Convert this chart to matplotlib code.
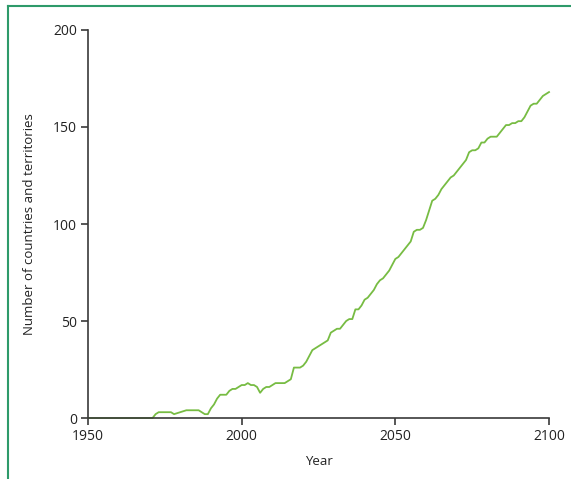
import matplotlib.pyplot as plt
from matplotlib.lines import Line2D

# numero de paises e territorios por ano
anos = list(range(1950, 2101))
valores = [0] * 22 + [
    2, 3, 3, 3, 3, 3, 2, 2.5, 3, 3.5,            # 1972-1981
    4, 4, 4, 4, 4, 3, 2, 2, 5, 7,                # 1982-1991
    10, 12, 12, 12, 14, 15, 15, 16, 17, 17,      # 1992-2001
    18, 17, 17, 16, 13, 15, 16, 16, 17, 18,      # 2002-2011
    18, 18, 18, 19, 20, 26, 26, 26, 27, 29,      # 2012-2021
    32, 35, 36, 37, 38, 39, 40, 44, 45, 46,      # 2022-2031
    46, 48, 50, 51, 51, 56, 56, 58, 61, 62,      # 2032-2041
    64, 66, 69, 71, 72, 74, 76, 79, 82, 83,      # 2042-2051
    85, 87, 89, 91, 96, 97, 97, 98, 102, 107,    # 2052-2061
    112, 113, 115, 118, 120, 122, 124, 125, 127, 129,  # 2062-2071
    131, 133, 137, 138, 138, 139, 142, 142, 144, 145,  # 2072-2081
    145, 145, 147, 149, 151, 151, 152, 152, 153, 153,  # 2082-2091
    155, 158, 161, 162, 162, 164, 166, 167, 168,       # 2092-2100
]

xticks = [1950, 2000, 2050, 2100]
yticks = [0, 50, 100, 150, 200]

plt.rcParams['font.family'] = ['Open Sans', 'DejaVu Sans']

fig = plt.figure(figsize=(5.71, 4.79), dpi=100)
ax = fig.add_axes([0.1541, 0.1273, 0.8074, 0.8101])

ax.plot(anos, valores, color='#77bc43', linewidth=1.3, clip_on=False)

ax.set_xlim(1950, 2100)
ax.set_ylim(0, 200)
ax.set_xticks(xticks)
ax.set_yticks(yticks)
ax.spines['top'].set_visible(False)
ax.spines['right'].set_visible(False)
for s in ['left', 'bottom']:
    ax.spines[s].set_color('#3a3a3a')
    ax.spines[s].set_linewidth(1.2)
ax.tick_params(colors='#3a3a3a', labelcolor='#222222', labelsize=10,
               length=5, width=1.2, direction='out', pad=3)
ax.set_xlabel('Year', fontsize=9.5, color='#222222', labelpad=8)
ax.set_ylabel('Number of countries and territories', fontsize=9.5,
              color='#222222', labelpad=12)

# moldura verde (topo e esquerda)
fig.add_artist(Line2D([7.5 / 571, 1.0], [1 - 5.5 / 479, 1 - 5.5 / 479],
                      color='#2e9a6a', linewidth=1.5, transform=fig.transFigure))
fig.add_artist(Line2D([7.5 / 571, 7.5 / 571], [0, 1 - 5.5 / 479],
                      color='#2e9a6a', linewidth=1.5, transform=fig.transFigure))

fig.savefig('out.png', dpi=100)
